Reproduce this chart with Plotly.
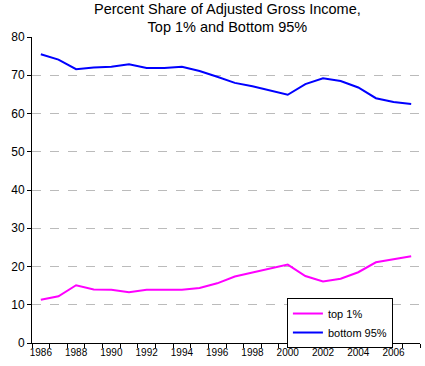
import plotly.graph_objects as go

years = list(range(1986, 2008))
top1 = [11.3, 12.2, 15.1, 14.0, 13.9, 13.3, 13.9, 13.9, 13.9, 14.4, 15.6,
        17.4, 18.4, 19.4, 20.5, 17.5, 16.1, 16.8, 18.5, 21.1, 22.0, 22.7]
bottom95 = [75.5, 74.1, 71.6, 72.0, 72.2, 72.9, 71.9, 71.9, 72.2, 71.1, 69.6,
            68.0, 67.1, 65.9, 64.9, 67.7, 69.2, 68.5, 66.8, 64.0, 63.0, 62.5]
xtick_labels = [str(y) for y in range(1986, 2007, 2)]
ytick_vals = list(range(0, 90, 10))

font = "Liberation Sans, Arial, sans-serif"

fig = go.Figure()
fig.add_trace(go.Scatter(x=years, y=top1, mode="lines", name="top 1%",
                         line=dict(color="#FF00FF", width=2)))
fig.add_trace(go.Scatter(x=years, y=bottom95, mode="lines", name="bottom 95%",
                         line=dict(color="#0000FF", width=2)))

fig.update_layout(
    width=425, height=366,
    margin=dict(l=32, r=5, t=37, b=23),
    paper_bgcolor="white", plot_bgcolor="white",
    font=dict(family=font, color="black"),
    title=dict(text="Percent Share of Adjusted Gross Income,<br>Top 1% and Bottom 95%",
               x=0.535, xanchor="center", y=0.963, yanchor="top",
               font=dict(size=14.5, family=font, color="black")),
    showlegend=True,
    legend=dict(x=0.657, y=0.147, xanchor="left", yanchor="top",
                bordercolor="black", borderwidth=1, bgcolor="white",
                font=dict(size=11, family=font), tracegroupgap=0,
                itemwidth=30),
)
fig.update_xaxes(
    range=[1985.5, 2007.5],
    tickvals=[int(t) for t in xtick_labels], ticktext=xtick_labels,
    ticks="", showgrid=False, zeroline=False,
    showline=True, linecolor="black", linewidth=1,
    tickfont=dict(size=10, family=font),
    minor=dict(tickvals=[y - 0.5 for y in years] + [2007.5], ticks="outside",
               ticklen=4, tickcolor="black", showgrid=False),
)
fig.update_yaxes(
    range=[0, 80], tickvals=ytick_vals,
    ticks="outside", ticklen=4, tickcolor="black",
    showline=True, linecolor="black", linewidth=1,
    showgrid=True, gridcolor="#BBBBBB", griddash="dash", gridwidth=1,
    zeroline=False, tickfont=dict(size=12, family=font),
)

fig.write_html("out.html", config={"displayModeBar": False},
               post_script="document.body.style.margin='0px';")
